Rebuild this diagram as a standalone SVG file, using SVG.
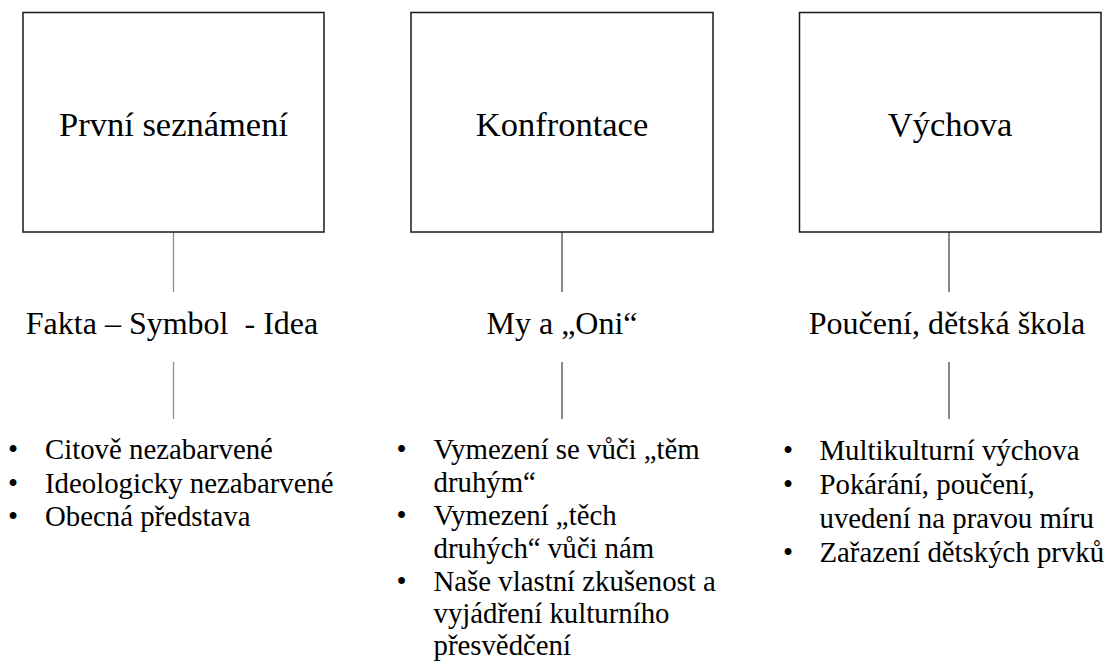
<svg xmlns="http://www.w3.org/2000/svg" width="1109" height="671" viewBox="0 0 1109 671" font-family="Liberation Serif">
<rect width="1109" height="671" fill="#fff"/>
<g id="connectors" stroke-width="1.3">
<line x1="173.5" y1="232" x2="173.5" y2="292" stroke="#8c8c8c"/>
<line x1="173.5" y1="362" x2="173.5" y2="419" stroke="#8c8c8c"/>
<line x1="562" y1="232" x2="562" y2="292" stroke="#4a4a4a"/>
<line x1="562" y1="362" x2="562" y2="419" stroke="#4a4a4a"/>
<line x1="949" y1="232" x2="949" y2="292" stroke="#4a4a4a"/>
<line x1="949" y1="362" x2="949" y2="419" stroke="#4a4a4a"/>
</g>
<g id="node-prvni">
<rect x="23" y="12.5" width="301" height="219.5" fill="#fff" stroke="#1a1a1a" stroke-width="1.5"/>
<text x="173.5" y="135.5" font-family="serif" font-size="34.5" text-anchor="middle">První seznámení</text>
</g>
<g id="node-konfrontace">
<rect x="411" y="12.5" width="302" height="219.5" fill="#fff" stroke="#1a1a1a" stroke-width="1.5"/>
<text x="562" y="135.5" font-family="serif" font-size="34.5" text-anchor="middle">Konfrontace</text>
</g>
<g id="node-vychova">
<rect x="799.5" y="12.5" width="301.5" height="219.5" fill="#fff" stroke="#1a1a1a" stroke-width="1.5"/>
<text x="950" y="135.5" font-family="serif" font-size="34.5" text-anchor="middle">Výchova</text>
</g>
<g id="label-fakta">
<text x="172" y="334" font-family="serif" font-size="32" text-anchor="middle">Fakta – Symbol&#160; - Idea</text>
</g>
<g id="label-my">
<text x="562" y="334" font-family="serif" font-size="32" text-anchor="middle">My a „Oni“</text>
</g>
<g id="label-pouceni">
<text x="947" y="334" font-family="serif" font-size="32" text-anchor="middle">Poučení, dětská škola</text>
</g>
<g id="list-prvni" font-family="serif" font-size="28.8">
<text x="8" y="459">•</text>
<text x="45" y="459">Citově nezabarvené</text>
<text x="8" y="492.5">•</text>
<text x="45" y="492.5">Ideologicky nezabarvené</text>
<text x="8" y="526">•</text>
<text x="45" y="526">Obecná představa</text>
</g>
<g id="list-konfrontace" font-family="serif" font-size="28.8">
<text x="396.5" y="459">•</text>
<text x="433.5" y="459">Vymezení se vůči „těm</text>
<text x="433.5" y="492">druhým“</text>
<text x="396.5" y="525">•</text>
<text x="433.5" y="525">Vymezení „těch</text>
<text x="433.5" y="558">druhých“ vůči nám</text>
<text x="396.5" y="590.5">•</text>
<text x="433.5" y="590.5">Naše vlastní zkušenost a</text>
<text x="433.5" y="622.5">vyjádření kulturního</text>
<text x="433.5" y="654.5">přesvědčení</text>
</g>
<g id="list-vychova" font-family="serif" font-size="28.8">
<text x="783" y="460">•</text>
<text x="819.5" y="460">Multikulturní výchova</text>
<text x="783" y="494">•</text>
<text x="819.5" y="494">Pokárání, poučení,</text>
<text x="819.5" y="528">uvedení na pravou míru</text>
<text x="783" y="562">•</text>
<text x="819.5" y="562">Zařazení dětských prvků</text>
</g>
</svg>
